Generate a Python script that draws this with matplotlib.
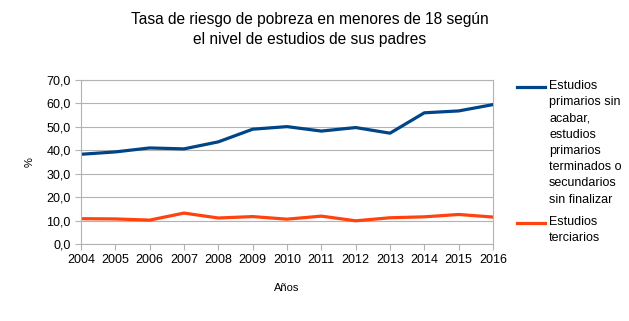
import matplotlib
matplotlib.use("Agg")
import matplotlib.pyplot as plt
from matplotlib.lines import Line2D
from matplotlib.ticker import FuncFormatter

plt.rcParams['font.family'] = ['Liberation Sans', 'DejaVu Sans']

# Tasa de riesgo de pobreza (%) por nivel de estudios de los padres
years = [2004, 2005, 2006, 2007, 2008, 2009, 2010, 2011, 2012, 2013, 2014, 2015, 2016]
primarios = [38.3, 39.3, 41.0, 40.6, 43.6, 49.0, 50.1, 48.2, 49.7, 47.3, 56.0, 56.8, 59.5]
terciarios = [10.8, 10.7, 10.2, 13.2, 11.1, 11.7, 10.6, 11.9, 9.9, 11.2, 11.6, 12.6, 11.5]
labels = ["Estudios\nprimarios sin\nacabar,\nestudios\nprimarios\nterminados o\nsecundarios\nsin finalizar",
          "Estudios\nterciarios"]
colors = ['#004586', '#ff420e']

W, H = 629, 321
fig = plt.figure(figsize=(W / 100, H / 100), dpi=100)
ax = fig.add_axes([81 / W, 1 - 244 / H, 412 / W, 164 / H])

ax.plot(years, primarios, color=colors[0], lw=2.3)
ax.plot(years, terciarios, color=colors[1], lw=2.3)

ax.set_xlim(2004, 2016)
ax.set_ylim(0, 70)
ax.set_xticks(years)
ax.set_yticks(range(0, 71, 10))
ax.yaxis.set_major_formatter(FuncFormatter(lambda v, p: f"{v:.1f}".replace('.', ',')))
ax.grid(axis='y', color='#b3b3b3', lw=0.8)
ax.set_axisbelow(True)
for s in ax.spines.values():
    s.set_color('#b3b3b3')
    s.set_linewidth(0.8)
ax.tick_params(axis='both', colors='#b3b3b3', labelcolor='black', labelsize=9, length=4, width=0.8)

ax.set_xlabel("Años", fontsize=8, labelpad=12)
ax.set_ylabel("%", fontsize=8, labelpad=8)

fig.text(310 / W, 1 - 12 / H,
         "Tasa de riesgo de pobreza en menores de 18 según\nel nivel de estudios de sus padres",
         ha='center', va='top', fontsize=11.2, linespacing=1.4)

# legend drawn by hand so the key sits on the first text line
for label, color, ytop in zip(labels, colors, [80, 216]):
    first = 1 - (ytop + 7) / H
    fig.add_artist(Line2D([517 / W, 545 / W], [first, first], color=color, lw=2.3,
                          transform=fig.transFigure))
    fig.text(549 / W, 1 - ytop / H, label, ha='left', va='top', fontsize=9, linespacing=1.47)

fig.savefig("out.png", dpi=100)
